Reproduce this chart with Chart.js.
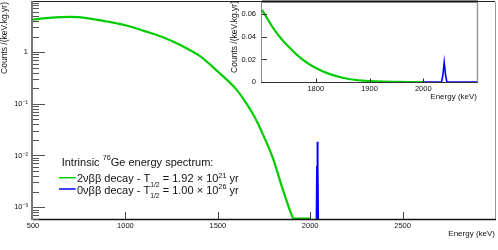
<!DOCTYPE html>
<html>
<head>
<meta charset="utf-8">
<script src="https://cdn.jsdelivr.net/npm/chart.js@4.4.0/dist/chart.umd.min.js"></script>
<style>
  html, body { margin: 0; padding: 0; background: #fff; }
  #wrap { position: relative; width: 498px; height: 250px; }
  #main { position: absolute; left: 0; top: 0; }
  #inset { position: absolute; left: 215px; top: 0; }
</style>
</head>
<body>
<div id="wrap">
  <canvas id="main" width="498" height="250"></canvas>
  <canvas id="inset" width="280" height="105"></canvas>
</div>
<script>
// espectro principal (escala log)
const energy2nu = [500, 600, 700, 800, 900, 1000, 1100, 1200, 1300, 1400, 1500, 1600, 1650, 1700, 1750, 1800, 1850, 1900, 1910, 1950, 2000];
const counts2nu = [4.25, 4.65, 4.8, 4.5, 3.9, 3.3, 2.57, 1.95, 1.35, 0.85, 0.42, 0.19, 0.108, 0.055, 0.023, 0.0085, 0.0023, 0.0007, 0.0006, 0.0006, 0.0006];
const energy0nu = [2033, 2037, 2039, 2041, 2045];
const counts0nu = [0.0001, 0.006, 0.0185, 0.006, 0.0001];

// zoom de la region final (escala lineal)
const insetEnergy2nu = [1700, 1725, 1750, 1775, 1800, 1825, 1850, 1875, 1900, 1925, 1950, 1975, 2000];
const insetCounts2nu = [0.064, 0.045, 0.031, 0.020, 0.0124, 0.0072, 0.0038, 0.0018, 0.0008, 0.0003, 0.0001, 0, 0];
const insetEnergy0nu = [2000, 2034, 2036.5, 2039, 2041.5, 2044, 2100];
const insetCounts0nu = [0, 0, 0.006, 0.0175, 0.006, 0, 0];

// ticks
const xTicks = [500, 1000, 1500, 2000, 2500];
const yTicks = [0.001, 0.01, 0.1, 1];
const yTickLabels = ['10\u207B\u00B3', '10\u207B\u00B2', '10\u207B\u00B9', '1'];
const insetXTicks = [1800, 1900, 2000];
const insetYTicks = [0, 0.02, 0.04, 0.06];
const insetYTickLabels = ['0', '0.02', '0.04', '0.06'];

const FONT = '"Liberation Sans", Arial, Helvetica, sans-serif';
const GREEN = '#00cc00';
const BLUE = '#0000ff';

const toPoints = (xs, ys) => xs.map((x, i) => ({ x: x, y: ys[i] }));

// quita el relleno automatico que Chart.js deja para las etiquetas
function fixSize(prop, size) {
  return s => {
    s[prop] = size;
    s.paddingTop = 0; s.paddingBottom = 0; s.paddingLeft = 0; s.paddingRight = 0;
  };
}

// texto con sub/superindices: [texto, tamaño relativo, desplazamiento vertical en px]
function richText(ctx, x, y, parts, size) {
  ctx.textAlign = 'left';
  ctx.textBaseline = 'alphabetic';
  parts.forEach(([t, rel, dy]) => {
    ctx.font = (size * rel) + 'px ' + FONT;
    ctx.fillText(t, x, y + dy);
    x += ctx.measureText(t).width;
  });
}

function line(ctx, x1, y1, x2, y2, color, w) {
  ctx.strokeStyle = color;
  ctx.lineWidth = w;
  ctx.beginPath();
  ctx.moveTo(x1, y1);
  ctx.lineTo(x2, y2);
  ctx.stroke();
}

function rotatedTitle(ctx, text, x, yTop, size) {
  ctx.save();
  ctx.translate(x, yTop);
  ctx.rotate(-Math.PI / 2);
  ctx.font = size + 'px ' + FONT;
  ctx.fillStyle = '#111';
  ctx.textAlign = 'right';
  ctx.textBaseline = 'middle';
  ctx.fillText(text, 0, 0);
  ctx.restore();
}

const mainDecor = {
  id: 'mainDecor',
  afterDraw(chart) {
    const ctx = chart.ctx;
    const a = chart.chartArea;
    const xs = chart.scales.x, ys = chart.scales.y;
    ctx.save();
    // marco
    line(ctx, a.left, a.top - 0.5, a.right, a.top - 0.5, '#222', 1);
    line(ctx, a.right + 0.5, a.top, a.right + 0.5, a.bottom, '#999', 1);
    line(ctx, a.left, a.bottom + 0.5, a.right + 1, a.bottom + 0.5, '#111', 1.5);
    line(ctx, a.left - 1, a.top - 1, a.left - 1, a.bottom + 1, '#777', 2);
    // ticks del eje y (log): mayores y menores
    for (let k = -4; k <= 1; k++) {
      for (let m = 1; m <= 9; m++) {
        const v = m * Math.pow(10, k);
        if (v < ys.min || v > ys.max) continue;
        const py = Math.round(ys.getPixelForValue(v)) + 0.5;
        line(ctx, a.left, py, a.left + (m === 1 ? 12 : 6), py, '#555', 1);
      }
    }
    // ticks del eje x
    xTicks.forEach(v => {
      const px = Math.round(xs.getPixelForValue(v)) + 0.5;
      if (v > xs.min) line(ctx, px, a.bottom, px, a.bottom - 7, '#444', 1);
    });
    // titulos de ejes
    rotatedTitle(ctx, 'Counts /(keV.kg.yr)', 5, 2, 8.5);
    ctx.font = '8px ' + FONT;
    ctx.fillStyle = '#111';
    ctx.textAlign = 'right';
    ctx.textBaseline = 'alphabetic';
    ctx.fillText('Energy (keV)', a.right, 236);
    // leyenda
    ctx.fillStyle = '#111';
    const S = 11;
    richText(ctx, 61.7, 166.3, [['Intrinsic ', 1, 0], ['76', 0.66, -6.3], ['Ge energy spectrum:', 1, 0]], S);
    line(ctx, 59, 177.7, 75.7, 177.7, GREEN, 1.5);
    richText(ctx, 77, 182.3, [['2\u03BD\u03B2\u03B2 decay - T', 1, 0], ['1/2', 0.62, 4.4], [' = 1.92 \u00D7 10', 1, 0], ['21', 0.66, -4.3], [' yr', 1, 0]], S);
    line(ctx, 59, 189, 75.7, 189, BLUE, 1.5);
    richText(ctx, 77, 193.7, [['0\u03BD\u03B2\u03B2 decay - T', 1, 0], ['1/2', 0.62, 4.4], [' = 1.00 \u00D7 10', 1, 0], ['26', 0.66, -4.3], [' yr', 1, 0]], S);
    ctx.restore();
  }
};

new Chart(document.getElementById('main').getContext('2d'), {
  type: 'line',
  data: {
    datasets: [{
      label: '2vbb',
      data: toPoints(energy2nu, counts2nu),
      borderColor: GREEN,
      borderWidth: 2.2,
      pointRadius: 0,
      cubicInterpolationMode: 'monotone',
      fill: false
    }, {
      label: '0vbb',
      data: toPoints(energy0nu, counts0nu),
      borderColor: BLUE,
      backgroundColor: BLUE,
      borderWidth: 2,
      pointRadius: 0,
      tension: 0,
      fill: 'start'
    }]
  },
  options: {
    responsive: false,
    animation: false,
    devicePixelRatio: 1,
    layout: { padding: { top: 2, right: 3, left: 0, bottom: 0 } },
    plugins: { legend: { display: false }, tooltip: { enabled: false } },
    scales: {
      x: {
        type: 'linear', min: 500, max: 3000,
        afterBuildTicks: s => { s.ticks = xTicks.map(v => ({ value: v })); },
        afterFit: fixSize('height', 31),
        grid: { display: false, drawTicks: false },
        border: { display: false },
        ticks: {
          callback: (v, i) => String(xTicks[i]),
          font: { size: 7.5, family: FONT }, color: '#111',
          padding: 2, maxRotation: 0, autoSkip: false
        }
      },
      y: {
        type: 'logarithmic', min: 5.9e-4, max: 9.3,
        afterBuildTicks: s => { s.ticks = yTicks.map(v => ({ value: v })); },
        afterFit: fixSize('width', 33),
        grid: { display: false, drawTicks: false },
        border: { display: false },
        ticks: {
          callback: (v, i) => yTickLabels[i],
          font: { size: 7.5, family: FONT }, color: '#111',
          padding: 5, autoSkip: false
        }
      }
    }
  },
  plugins: [mainDecor]
});

const insetDecor = {
  id: 'insetDecor',
  beforeDatasetsDraw(chart) {
    const ctx = chart.ctx, a = chart.chartArea;
    ctx.save();
    ctx.fillStyle = '#fff';
    ctx.fillRect(a.left, a.top, a.right - a.left, a.bottom - a.top);
    ctx.restore();
  },
  afterDraw(chart) {
    const ctx = chart.ctx;
    const a = chart.chartArea;
    const xs = chart.scales.x, ys = chart.scales.y;
    ctx.save();
    line(ctx, a.left, a.top - 0.5, a.right + 1, a.top - 0.5, '#111', 2);
    line(ctx, a.right + 0.5, a.top, a.right + 0.5, a.bottom, '#999', 1.5);
    line(ctx, a.left - 0.5, a.top, a.left - 0.5, a.bottom + 0.5, '#888', 1);
    line(ctx, a.left - 1, a.bottom + 0.5, a.right + 1, a.bottom + 0.5, '#333', 1);
    insetYTicks.forEach(v => {
      const py = Math.round(ys.getPixelForValue(v)) + 0.5;
      if (v > ys.min) line(ctx, a.left, py, a.left + 5, py, '#333', 1);
    });
    insetXTicks.forEach(v => {
      const px = Math.round(xs.getPixelForValue(v)) + 0.5;
      line(ctx, px, a.bottom, px, a.bottom - 3.5, '#222', 1);
    });
    rotatedTitle(ctx, 'Counts /(keV.kg.yr)', 20, 1, 8.5);
    ctx.font = '8px ' + FONT;
    ctx.fillStyle = '#111';
    ctx.textAlign = 'right';
    ctx.textBaseline = 'alphabetic';
    ctx.fillText('Energy (keV)', a.right, 99);
    ctx.restore();
  }
};

new Chart(document.getElementById('inset').getContext('2d'), {
  type: 'line',
  data: {
    datasets: [{
      label: '2vbb',
      data: toPoints(insetEnergy2nu, insetCounts2nu),
      borderColor: GREEN,
      borderWidth: 2.2,
      pointRadius: 0,
      cubicInterpolationMode: 'monotone',
      fill: false
    }, {
      label: '0vbb',
      data: toPoints(insetEnergy0nu, insetCounts0nu),
      borderColor: BLUE,
      borderWidth: 1.6,
      pointRadius: 0,
      tension: 0,
      fill: false
    }]
  },
  options: {
    responsive: false,
    animation: false,
    devicePixelRatio: 1,
    layout: { padding: { top: 2, right: 18, left: 0, bottom: 0 } },
    plugins: { legend: { display: false }, tooltip: { enabled: false } },
    scales: {
      x: {
        type: 'linear', min: 1700, max: 2100,
        afterBuildTicks: s => { s.ticks = insetXTicks.map(v => ({ value: v })); },
        afterFit: fixSize('height', 23),
        grid: { display: false, drawTicks: false },
        border: { display: false },
        ticks: {
          callback: (v, i) => String(insetXTicks[i]),
          font: { size: 7.5, family: FONT }, color: '#111',
          padding: 2, maxRotation: 0, autoSkip: false
        }
      },
      y: {
        type: 'linear', min: 0, max: 0.071,
        afterBuildTicks: s => { s.ticks = insetYTicks.map(v => ({ value: v })); },
        afterFit: fixSize('width', 47),
        grid: { display: false, drawTicks: false },
        border: { display: false },
        ticks: {
          callback: (v, i) => insetYTickLabels[i],
          font: { size: 7.5, family: FONT }, color: '#111',
          padding: 6, autoSkip: false
        }
      }
    }
  },
  plugins: [insetDecor]
});
</script>
</body>
</html>
